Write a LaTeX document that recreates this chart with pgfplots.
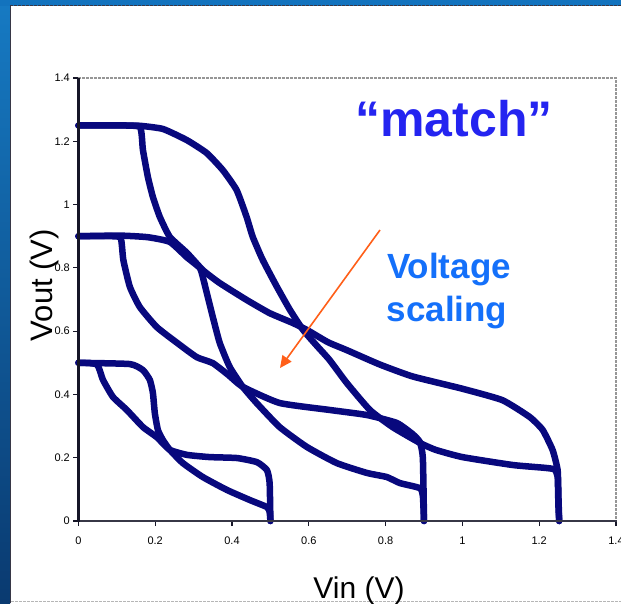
\documentclass[border=0pt]{standalone}
\usepackage{fontspec}
\setmainfont{Liberation Sans}
\usepackage{pgfplots}
\pgfplotsset{compat=1.18}
\usetikzlibrary{arrows.meta}
\definecolor{curve}{RGB}{8,8,125}
\definecolor{matchblue}{RGB}{36,36,240}
\definecolor{vblue}{RGB}{20,112,250}
\definecolor{arrowc}{RGB}{255,95,25}
\definecolor{frameblue}{RGB}{18,115,190}
\definecolor{axk}{RGB}{22,22,40}
\definecolor{axg}{RGB}{55,55,70}
\definecolor{bordg}{RGB}{150,150,150}
\begin{document}
\begin{tikzpicture}
\useasboundingbox (0pt,0pt) rectangle (621pt,-603pt);
\shade[top color={rgb,255:red,22;green,122;blue,195}, bottom color={rgb,255:red,10;green,58;blue,112}] (0pt,0pt) rectangle (10pt,-603pt);
\fill[frameblue] (0pt,0pt) rectangle (621pt,-6pt);
\draw[axg, line width=1.3pt, dash pattern=on 3pt off 1pt] (10pt,-5.6pt) -- (621pt,-5.6pt);
\fill[axg] (9.8pt,-6pt) rectangle (11.3pt,-603pt);
\draw[bordg!70, dash pattern=on 3pt off 1pt, line width=1pt] (11pt,-601.5pt) -- (621pt,-601.5pt);
\begin{axis}[
  at={(78.4pt,-521pt)}, anchor=south west,
  scale only axis, width=537.6pt, height=443pt,
  xmin=0, xmax=1.4, ymin=0, ymax=1.4,
  xtick={0,0.2,0.4,0.6,0.8,1,1.2,1.4},
  ytick={0,0.2,0.4,0.6,0.8,1,1.2,1.4},
  axis x line*=bottom, axis y line*=left,
  axis line style={-},
  x axis line style={draw=axg, line width=2.4pt},
  y axis line style={draw=axk, line width=2.4pt},
  tick align=outside, major tick length=5pt,
  major tick style={draw=axk, line width=1.2pt},
  ticklabel style={font=\fontsize{11}{11}\selectfont},
  xticklabel style={yshift=-7pt},
  /pgf/number format/assume math mode=true,
  clip=false,
  vtc/.style={draw=curve, line width=6.5pt, line join=round, line cap=round, mark=none, smooth, tension=0.3},
]
\draw[bordg, dash pattern=on 3pt off 1pt, line width=1.2pt] (rel axis cs:0,1) -- (rel axis cs:1,1) -- (rel axis cs:1,0);
% VDD = 1.25 : VTC
\addplot[vtc] coordinates {(0,1.25)(0.108,1.25)(0.16,1.249)(0.22,1.239)(0.282,1.204)(0.334,1.163)(0.376,1.109)(0.412,1.046)(0.438,0.961)(0.454,0.898)(0.48,0.825)(0.517,0.74)(0.551,0.667)(0.585,0.604)(0.62,0.555)(0.654,0.509)(0.699,0.436)(0.759,0.351)(0.818,0.297)(0.889,0.247)(0.93,0.225)(1.0,0.202)(1.131,0.177)(1.215,0.168)(1.24,0.163)(1.248,0.14)(1.25,0.05)(1.252,0)};
% VDD = 1.25 : mirrored
\addplot[vtc] coordinates {(0,1.25)(0.1,1.25)(0.16,1.245)(0.168,1.173)(0.181,1.087)(0.194,1.024)(0.212,0.961)(0.238,0.898)(0.283,0.847)(0.324,0.793)(0.368,0.752)(0.439,0.698)(0.498,0.657)(0.558,0.626)(0.595,0.604)(0.65,0.565)(0.699,0.540)(0.784,0.495)(0.87,0.457)(1.0,0.418)(1.104,0.382)(1.175,0.329)(1.209,0.288)(1.235,0.224)(1.248,0.161)(1.25,0.08)(1.252,0)};
% VDD = 0.9 : VTC
\addplot[vtc] coordinates {(0,0.9)(0.108,0.902)(0.18,0.897)(0.238,0.882)(0.282,0.834)(0.316,0.8)(0.324,0.771)(0.337,0.708)(0.35,0.645)(0.368,0.563)(0.394,0.487)(0.428,0.424)(0.464,0.373)(0.524,0.297)(0.595,0.234)(0.673,0.183)(0.751,0.152)(0.803,0.139)(0.837,0.12)(0.889,0.104)(0.897,0.08)(0.9,0)};
% VDD = 0.9 : mirrored
\addplot[vtc] coordinates {(0,0.9)(0.08,0.9)(0.11,0.895)(0.117,0.825)(0.134,0.74)(0.16,0.676)(0.204,0.613)(0.257,0.563)(0.308,0.518)(0.35,0.499)(0.39,0.462)(0.428,0.424)(0.524,0.373)(0.654,0.351)(0.751,0.335)(0.829,0.31)(0.87,0.275)(0.889,0.25)(0.897,0.2)(0.9,0)};
% VDD = 0.5 : VTC
\addplot[vtc] coordinates {(0,0.5)(0.134,0.496)(0.168,0.477)(0.186,0.446)(0.194,0.405)(0.199,0.341)(0.207,0.288)(0.22,0.256)(0.238,0.225)(0.272,0.183)(0.324,0.139)(0.387,0.098)(0.447,0.066)(0.491,0.044)(0.498,0.028)(0.5,0)};
% VDD = 0.5 : mirrored
\addplot[vtc] coordinates {(0,0.5)(0.048,0.495)(0.064,0.446)(0.09,0.392)(0.126,0.351)(0.168,0.297)(0.204,0.265)(0.238,0.225)(0.283,0.209)(0.342,0.202)(0.413,0.199)(0.465,0.186)(0.491,0.161)(0.498,0.12)(0.5,0)};
\end{axis}
\fill[axg] (77.2pt,-519.8pt) rectangle (616.5pt,-522.3pt);
\fill[axk] (77.2pt,-78pt) rectangle (79.7pt,-522.3pt);
\draw[arrowc, line width=1.6pt, -{Triangle[length=12pt,width=11pt]}] (380pt,-230pt) -- (280pt,-368pt);
\node[anchor=base, text=matchblue, font=\bfseries\fontsize{50}{50}\selectfont, inner sep=0pt] at (454pt,-136pt) {``match''};
\node[anchor=base, text=vblue, font=\bfseries\fontsize{35}{35}\selectfont, inner sep=0pt] at (449pt,-278pt) {Voltage};
\node[anchor=base, text=vblue, font=\bfseries\fontsize{35}{35}\selectfont, inner sep=0pt] at (447pt,-321pt) {scaling};
\node[anchor=base, font=\fontsize{30}{30}\selectfont, inner sep=0pt] at (359pt,-598pt) {Vin (V)};
\node[rotate=90, anchor=base, font=\fontsize{31}{31}\selectfont, inner sep=0pt] at (52pt,-285pt) {Vout (V)};
\end{tikzpicture}
\end{document}
